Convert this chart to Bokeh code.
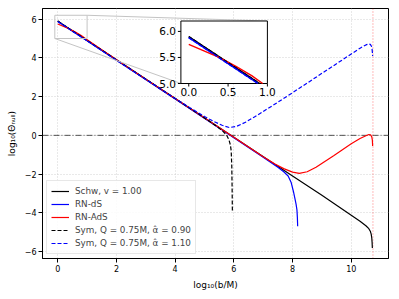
import math
from bokeh.plotting import figure
from bokeh.models import Range1d, FixedTicker, Span
from bokeh.core.properties import value
from bokeh.embed import file_html
from bokeh.resources import INLINE

# ---------------- data ----------------
schw_x = [0, 0.25, 0.5, 0.75, 0.9, 2, 4, 6, 8, 9, 9.5, 10.0, 10.3, 10.5, 10.6, 10.65, 10.68, 10.7, 10.71, 10.72]
schw_y = [5.9, 5.65, 5.4, 5.15, 5.0, 3.9, 1.9, -0.1, -2.1, -3.1, -3.61, -4.13, -4.44, -4.67, -4.82, -4.95, -5.1, -5.3, -5.5, -5.82]

rnds_x = [0, 0.25, 0.5, 0.75, 0.88, 2, 4, 6, 7, 7.5, 7.7, 7.85, 7.95, 8.03, 8.08, 8.12, 8.15, 8.165, 8.175]
rnds_y = [5.88, 5.63, 5.38, 5.13, 5.0, 3.88, 1.88, -0.12, -1.13, -1.65, -1.88, -2.1, -2.42, -2.9, -3.25, -3.55, -3.85, -4.25, -4.7]

rnads_x = [0, 0.2, 0.4, 0.6, 0.8, 0.94, 1.5, 2.5, 4, 6, 7, 7.4, 7.7, 8.0, 8.23, 8.5, 8.8, 9.1, 9.4, 9.7, 10.0, 10.3, 10.5, 10.6, 10.66, 10.7, 10.72, 10.73]
rnads_y = [5.75, 5.62, 5.49, 5.33, 5.15, 5.0, 4.42, 3.4, 1.9, -0.1, -1.1, -1.48, -1.72, -1.9, -1.96, -1.88, -1.65, -1.35, -1.05, -0.74, -0.44, -0.16, -0.02, 0.04, 0.03, -0.08, -0.25, -0.55]

sym090_x = [0, 0.25, 0.5, 0.75, 0.9, 2, 4, 5, 5.4, 5.6, 5.75, 5.83, 5.88, 5.91, 5.93, 5.94, 5.95]
sym090_y = [5.9, 5.65, 5.4, 5.15, 5.0, 3.9, 1.9, 0.9, 0.48, 0.25, 0.02, -0.22, -0.48, -0.8, -1.6, -2.6, -3.9]

sym110_x = [0, 0.25, 0.5, 0.75, 0.88, 2, 4, 4.5, 5.0, 5.3, 5.6, 5.85, 6.1, 6.4, 6.7, 7.0, 7.5, 8.0, 8.5, 9.0, 9.5, 10.0, 10.3, 10.5, 10.6, 10.65, 10.69, 10.71, 10.72, 10.73]
sym110_y = [5.88, 5.63, 5.38, 5.13, 5.0, 3.88, 1.9, 1.43, 0.97, 0.73, 0.52, 0.4, 0.47, 0.68, 0.95, 1.23, 1.71, 2.2, 2.7, 3.2, 3.7, 4.2, 4.5, 4.67, 4.72, 4.7, 4.6, 4.45, 4.3, 4.1]

labels = ["Schw, v = 1.00", "RN-dS", "RN-AdS",
          "Sym, Q = 0.75M, \u03b1\u0302 = 0.90", "Sym, Q = 0.75M, \u03b1\u0302 = 1.10"]

x_ticks = [0, 2, 4, 6, 8, 10]
y_ticks = [-6, -4, -2, 0, 2, 4, 6]
inset_x_ticks = [0.0, 0.5, 1.0]
inset_y_ticks = [5.0, 5.5, 6.0]
inset_x_labels = ["0.0", "0.5", "1.0"]
inset_y_labels = ["5.0", "5.5", "6.0"]

b_max = 10.74   # vertical dotted line
zero_level = 0.0

x_lim = (-0.52, 11.27)
y_lim = (-6.36, 6.55)
inset_xlim = (-0.1, 1.0)
inset_ylim = (5.0, 6.2)
inset_box = (0.4, 0.7, 0.25, 0.25)   # axes-fraction position of the inset

FONT = "DejaVu Sans"

p = figure(frame_width=346, frame_height=250,
           x_range=Range1d(*x_lim), y_range=Range1d(*y_lim),
           min_border_left=42, min_border_right=2, min_border_top=8, min_border_bottom=32,
           output_backend="svg", toolbar_location=None)

# inset ranges mapped onto the same frame
fx, fy, fw, fh = inset_box
W = (inset_xlim[1] - inset_xlim[0]) / fw
H = (inset_ylim[1] - inset_ylim[0]) / fh
ix0 = inset_xlim[0] - fx * W
iy0 = inset_ylim[0] - fy * H
p.extra_x_ranges = {"ix": Range1d(ix0, ix0 + W)}
p.extra_y_ranges = {"iy": Range1d(iy0, iy0 + H)}

def to_main_x(v):
    return x_lim[0] + (v - ix0) / W * (x_lim[1] - x_lim[0])

def to_main_y(v):
    return y_lim[0] + (v - iy0) / H * (y_lim[1] - y_lim[0])

# axes styling
p.outline_line_color = "black"
p.outline_line_width = 1
for ax in (p.xaxis[0], p.yaxis[0]):
    ax.axis_line_color = "black"
    ax.major_tick_line_color = "black"
    ax.minor_tick_line_color = None
    ax.major_tick_in = 0
    ax.major_tick_out = 4
    ax.major_label_text_font = FONT
    ax.major_label_text_font_size = "8px"
    ax.major_label_text_color = "black"
    ax.axis_label_text_font = FONT
    ax.axis_label_text_font_size = "9px"
    ax.axis_label_text_font_style = "normal"
    ax.axis_label_text_color = "black"
    ax.major_label_standoff = 2
    ax.axis_label_standoff = 5
p.xaxis.ticker = FixedTicker(ticks=x_ticks)
p.yaxis.ticker = FixedTicker(ticks=y_ticks)
p.xaxis.major_label_overrides = {t: str(t).replace("-", "\u2212") for t in x_ticks}
p.yaxis.major_label_overrides = {t: str(t).replace("-", "\u2212") for t in y_ticks}
p.xaxis.axis_label = "log\u2081\u2080(b/M)"
p.yaxis.axis_label = "log\u2081\u2080(\u0398\u2099\u1d64\u2097\u2097)"

p.grid.grid_line_color = "#c8c8c8"
p.grid.grid_line_dash = "1 2"
p.grid.grid_line_width = 0.8

# reference lines
p.add_layout(Span(location=zero_level, dimension="width", line_color="black",
                  line_alpha=0.75, line_width=0.9, line_dash="6 2 1 2", level="underlay"))
p.add_layout(Span(location=b_max, dimension="height", line_color="red",
                  line_alpha=0.6, line_width=0.9, line_dash="1 2", level="underlay"))

series = [
    (schw_x, schw_y, "black", "solid"),
    (rnds_x, rnds_y, "blue", "solid"),
    (rnads_x, rnads_y, "red", "solid"),
    (sym090_x, sym090_y, "black", "4 2"),
    (sym110_x, sym110_y, "blue", "4 2"),
]
for (xs, ys, c, d), lab in zip(series, labels):
    p.line(xs, ys, line_color=c, line_dash=d, line_width=1.2, legend_label=lab)

# zoom-indicator rectangle and connectors
p.quad(left=[inset_xlim[0]], right=[inset_xlim[1]], bottom=[inset_ylim[0]], top=[inset_ylim[1]],
       fill_color=None, line_color="#c4c4c4", line_width=1)
p.segment(x0=[inset_xlim[1], inset_xlim[0]], y0=[inset_ylim[1], inset_ylim[0]],
          x1=[to_main_x(inset_xlim[1]), to_main_x(inset_xlim[0])],
          y1=[to_main_y(inset_ylim[1]), to_main_y(inset_ylim[0])],
          line_color="#c4c4c4", line_width=1)

# inset axes
p.quad(left=[inset_xlim[0]], right=[inset_xlim[1]], bottom=[inset_ylim[0]], top=[inset_ylim[1]],
       fill_color="white", line_color="black", line_width=1,
       x_range_name="ix", y_range_name="iy")
for xs, ys, c, d in series:
    pts = [(a, b) for a, b in zip(xs, ys) if inset_ylim[0] <= b <= inset_ylim[1]
           and inset_xlim[0] <= a <= inset_xlim[1]]
    p.line([a for a, _ in pts], [b for _, b in pts], line_color=c, line_dash=d,
           line_width=1.4, x_range_name="ix", y_range_name="iy")

p.ray(x=inset_x_ticks, y=[inset_ylim[0]] * 3, length=3, length_units="screen",
      angle=-math.pi / 2, line_color="black", line_width=1, x_range_name="ix", y_range_name="iy")
p.ray(x=[inset_xlim[0]] * 3, y=inset_y_ticks, length=3, length_units="screen",
      angle=math.pi, line_color="black", line_width=1, x_range_name="ix", y_range_name="iy")
p.text(x=inset_x_ticks, y=[inset_ylim[0]] * 3, text=inset_x_labels, text_align="center",
       text_baseline="top", y_offset=4, text_font=value(FONT), text_font_size="10.5px",
       text_color="black", x_range_name="ix", y_range_name="iy")
p.text(x=[inset_xlim[0]] * 3, y=inset_y_ticks, text=inset_y_labels, text_align="right",
       text_baseline="middle", x_offset=-5, text_font=value(FONT), text_font_size="10.5px",
       text_color="black", x_range_name="ix", y_range_name="iy")

# legend
lg = p.legend[0]
lg.location = "bottom_left"
lg.margin = 4
lg.padding = 4
lg.spacing = 1
lg.label_height = 12
lg.glyph_height = 12
lg.glyph_width = 18
lg.label_standoff = 6
lg.label_text_font = FONT
lg.label_text_font_size = "8.8px"
lg.border_line_color = "#d0d0d0"
lg.border_line_width = 1
lg.background_fill_alpha = 0.85

open("out.html", "w").write(file_html(p, INLINE))
